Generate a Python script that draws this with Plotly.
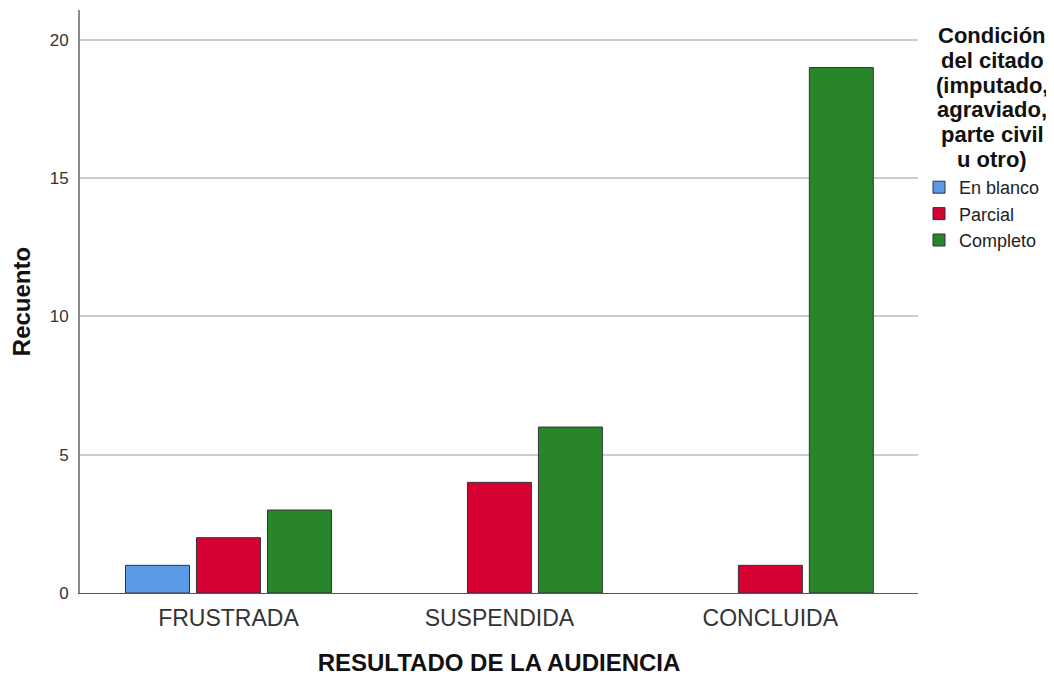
import plotly.graph_objects as go

categories = ["FRUSTRADA", "SUSPENDIDA", "CONCLUIDA"]
series_names = ["En blanco", "Parcial", "Completo"]
en_blanco = [1, None, None]
parcial = [2, 4, 1]
completo = [3, 6, 19]
colors = ["#5A9AE6", "#D60032", "#29852A"]
y_ticks = [0, 5, 10, 15, 20]
legend_title_lines = ["Condición", "del citado", "(imputado,", "agraviado,", "parte civil", "u otro)"]

fig = go.Figure()
for name, vals, col in zip(series_names, [en_blanco, parcial, completo], colors):
    fig.add_trace(go.Bar(
        x=categories, y=vals, name=name,
        marker=dict(color=col, line=dict(color="#333333", width=1)),
    ))

# plot area in page pixels: x 80..918, y 10..593 (page has an 8px body offset)
PLOT_TOP, PLOT_BOT, PLOT_L, PLOT_R = 10, 593, 80, 918
for i, line in enumerate(legend_title_lines):
    cy = 35.5 + 24.8 * i
    fig.add_annotation(
        text=f"<b>{line}</b>", xref="paper", yref="paper",
        x=(992 - PLOT_L) / (PLOT_R - PLOT_L), y=(PLOT_BOT - cy) / (PLOT_BOT - PLOT_TOP),
        xanchor="center", yanchor="middle", showarrow=False,
        font=dict(size=22, color="#111111"),
    )

fig.update_layout(
    width=1054, height=675,
    margin=dict(l=72, r=144, t=2, b=90),
    paper_bgcolor="white", plot_bgcolor="white",
    font=dict(family="Liberation Sans, Arial, sans-serif", color="#222222"),
    barmode="group", bargap=0.214, bargroupgap=0.099,
    showlegend=True,
    legend=dict(
        x=(919 - PLOT_L) / (PLOT_R - PLOT_L), xanchor="left",
        y=(PLOT_BOT - 169) / (PLOT_BOT - PLOT_TOP), yanchor="top",
        font=dict(size=18, color="#222222"),
        itemwidth=30, tracegroupgap=0,
    ),
    xaxis=dict(
        type="category", range=[-0.548, 2.545],
        showline=True, linecolor="#555555", linewidth=1,
        ticks="outside", ticklen=4, tickcolor="rgba(0,0,0,0)",
        tickfont=dict(size=23, color="#333333"),
        title=dict(text="<b>RESULTADO DE LA AUDIENCIA</b>", font=dict(size=24, color="#111111"), standoff=24),
    ),
    yaxis=dict(
        range=[0, 21.08], tickvals=y_ticks,
        showline=True, linecolor="#8A8A8A", linewidth=2,
        showgrid=True, gridcolor="#CCCCCC", gridwidth=1.5,
        zeroline=False,
        ticks="outside", ticklen=6, tickcolor="rgba(0,0,0,0)",
        tickfont=dict(size=17, color="#333333"),
        title=dict(text="<b>Recuento</b>", font=dict(size=24, color="#111111"), standoff=14),
    ),
)

fig.write_html("out.html")
